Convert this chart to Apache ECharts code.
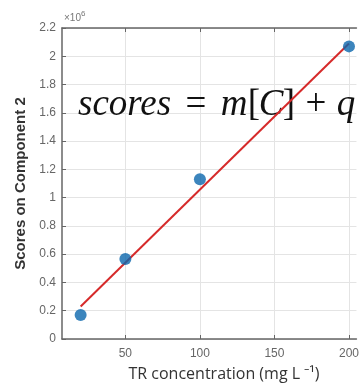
<!DOCTYPE html>
<html><head><meta charset="utf-8">
<script src="https://cdn.jsdelivr.net/npm/echarts@6/dist/echarts.min.js"></script>
<style>html,body{margin:0;padding:0;background:#fff}#c{width:362px;height:384px}</style>
</head><body><div id="c"></div>
<script>
// values in units of 1e6
var concentrations = [20, 50, 100, 200];
var scores = [0.17, 0.566, 1.13, 2.07];
var fitX = [20, 200];
var fitY = [0.23, 2.09];
var xTicks = [50, 100, 150, 200];
var yTicks = [0, 0.2, 0.4, 0.6, 0.8, 1, 1.2, 1.4, 1.6, 1.8, 2, 2.2];

var chart = echarts.init(document.getElementById('c'), null, {renderer: 'canvas'});
var tickFont = {fontFamily: 'Liberation Sans', fontSize: 12, color: '#666'};
var eqTop = 80;
function eq(txt, x, italic, align) {
  return {
    type: 'text', x: x, y: eqTop, z: 1,
    style: {text: txt, fontFamily: 'Liberation Serif', fontStyle: italic ? 'italic' : 'normal',
      fontSize: 37, lineHeight: 50, fill: '#111', align: align || 'center', verticalAlign: 'top'}
  };
}
chart.setOption({
  animation: false,
  backgroundColor: '#fff',
  grid: {left: 62, top: 28, bottom: 45, right: -2, containLabel: false},
  xAxis: [{
    type: 'value', min: 7.5, max: 205, position: 'bottom',
    axisLine: {lineStyle: {color: '#666', width: 1.5}},
    axisTick: {inside: true, length: 4, customValues: xTicks, lineStyle: {color: '#666'}},
    axisLabel: Object.assign({customValues: xTicks, margin: 9}, tickFont),
    splitLine: {show: true, lineStyle: {color: '#e4e4e4', width: 1}}
  }, {
    type: 'value', min: 7.5, max: 205, position: 'top',
    axisLine: {show: true, lineStyle: {color: '#666', width: 1.5}},
    axisTick: {inside: true, length: 4, customValues: xTicks, lineStyle: {color: '#666'}},
    axisLabel: {show: false}, splitLine: {show: false}
  }],
  yAxis: {
    type: 'value', min: 0, max: 2.2, interval: 0.2,
    axisLine: {show: true, lineStyle: {color: '#666', width: 1.5}},
    axisTick: {show: true, inside: true, length: 4, lineStyle: {color: '#666'}},
    axisLabel: Object.assign({margin: 6, formatter: function (v) { return String(Math.round(v * 10) / 10); }}, tickFont),
    splitLine: {show: true, lineStyle: {color: '#e4e4e4', width: 1}},
    name: 'Scores on Component 2', nameLocation: 'middle', nameGap: 29, nameRotate: 90,
    nameTextStyle: {fontFamily: 'Liberation Sans', fontSize: 15, fontWeight: 'bold', color: '#333'}
  },
  series: [{
    type: 'line', data: fitX.map(function (x, i) { return [x, fitY[i]]; }),
    showSymbol: false, lineStyle: {color: '#d62a2a', width: 2}, z: 5
  }, {
    type: 'scatter', data: concentrations.map(function (x, i) { return [x, scores[i]]; }),
    symbolSize: 12, itemStyle: {color: '#0b66ad'}, z: 6
  }],
  graphic: [{
    type: 'text', left: 64, top: 10,
    style: {text: '{a|\u00D710}{b|6}', rich: {
      a: {fontFamily: 'Liberation Sans', fontSize: 10, fill: '#777', padding: [4, 0, 0, 0]},
      b: {fontFamily: 'Liberation Sans', fontSize: 8, fill: '#777', padding: [0, 0, 4, 0]}
    }}
  }, {
    type: 'text', x: 224, y: 366,
    style: {text: 'TR concentration (mg L \u207B\u00B9)', fontFamily: 'Open Sans', fontSize: 16,
      fill: '#333', align: 'center', verticalAlign: 'top'}
  },
    eq('scores', 78, true, 'left'),
    eq('=', 196, false),
    eq('m', 234, true),
    eq('[', 254, false),
    eq('C', 271, true),
    eq(']', 289, false),
    eq('+', 316, false),
    eq('q', 346, true)
  ]
});
</script></body></html>
